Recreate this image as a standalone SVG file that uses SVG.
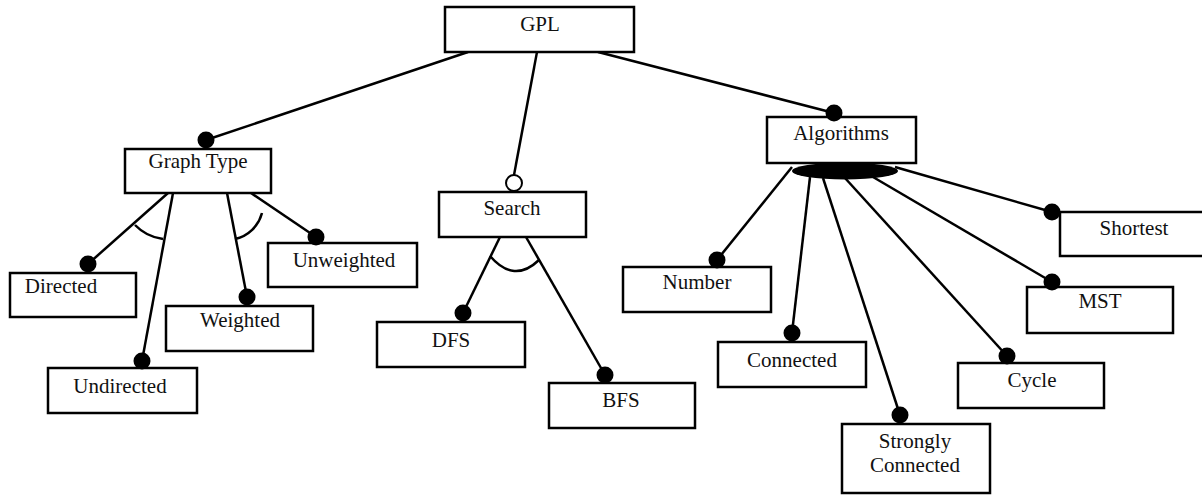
<svg xmlns="http://www.w3.org/2000/svg" width="1202" height="496" viewBox="0 0 1202 496">
<style>
.box{fill:#fff;stroke:#000;stroke-width:2.5}
.t{font-family:"Liberation Serif","Times New Roman",serif;font-size:21px;fill:#111;text-anchor:middle}
.c line,.c path{stroke:#000;stroke-width:2.5;fill:none}
.dot{fill:#000}
.odot{fill:#fff;stroke:#000;stroke-width:2}
</style>
<rect width="1202" height="496" fill="#fff"/>
<g id="connectors" class="c">
<line x1="468" y1="52" x2="206" y2="140"/>
<line x1="537" y1="52" x2="514" y2="175"/>
<line x1="598" y1="52" x2="834" y2="113"/>
<line x1="168" y1="193" x2="88" y2="264"/>
<line x1="173" y1="193" x2="142" y2="361"/>
<line x1="227" y1="193" x2="247" y2="297"/>
<line x1="251" y1="193" x2="316" y2="237"/>
<path d="M135,225 A47 47 0 0 0 163,239"/>
<path d="M235,239 A36 36 0 0 0 262,213"/>
<line x1="500" y1="237" x2="463" y2="313"/>
<line x1="526" y1="237" x2="605" y2="375"/>
<path d="M490,256 Q514,284 539,260"/>
<line x1="792" y1="167" x2="717" y2="260"/>
<line x1="810" y1="177" x2="792" y2="333"/>
<line x1="823" y1="178" x2="900" y2="415"/>
<line x1="845" y1="178" x2="1007" y2="356"/>
<line x1="873" y1="177" x2="1052" y2="282"/>
<line x1="895" y1="167" x2="1052" y2="212"/>
</g>
<g id="GPL"><rect class="box" x="445" y="7" width="189" height="45"/><text class="t" x="540" y="31">GPL</text></g>
<g id="GraphType"><rect class="box" x="125" y="149" width="146" height="44"/><text class="t" x="198" y="168">Graph Type</text><circle class="dot" cx="206" cy="140" r="8.5"/></g>
<g id="Search"><rect class="box" x="439" y="192" width="147" height="45"/><text class="t" x="512" y="215">Search</text><circle class="odot" cx="514" cy="183" r="8"/></g>
<g id="Algorithms"><rect class="box" x="767" y="117" width="149" height="46"/><text class="t" x="841" y="140">Algorithms</text><circle class="dot" cx="834" cy="113" r="8.5"/><ellipse class="dot" cx="845" cy="171" rx="53" ry="8.5"/></g>
<g id="Directed"><rect class="box" x="10" y="273" width="126" height="44"/><text class="t" x="61" y="293">Directed</text><circle class="dot" cx="88" cy="264" r="8.5"/></g>
<g id="Undirected"><rect class="box" x="48" y="368" width="149" height="45"/><text class="t" x="120" y="393">Undirected</text><circle class="dot" cx="142" cy="361" r="8.5"/></g>
<g id="Weighted"><rect class="box" x="166" y="306" width="147" height="45"/><text class="t" x="240" y="327">Weighted</text><circle class="dot" cx="247" cy="297" r="8.5"/></g>
<g id="Unweighted"><rect class="box" x="268" y="243" width="149" height="44"/><text class="t" x="344" y="267">Unweighted</text><circle class="dot" cx="316" cy="237" r="8.5"/></g>
<g id="DFS"><rect class="box" x="377" y="322" width="148" height="45"/><text class="t" x="451" y="347">DFS</text><circle class="dot" cx="463" cy="313" r="8.5"/></g>
<g id="BFS"><rect class="box" x="549" y="383" width="146" height="45"/><text class="t" x="621" y="407">BFS</text><circle class="dot" cx="605" cy="375" r="8.5"/></g>
<g id="Number"><rect class="box" x="623" y="267" width="148" height="45"/><text class="t" x="697" y="289">Number</text><circle class="dot" cx="717" cy="260" r="8.5"/></g>
<g id="Connected"><rect class="box" x="718" y="342" width="148" height="45"/><text class="t" x="792" y="367">Connected</text><circle class="dot" cx="792" cy="333" r="8.5"/></g>
<g id="StronglyConnected"><rect class="box" x="842" y="424" width="148" height="69"/><text class="t" x="915" y="448">Strongly</text><text class="t" x="915" y="472">Connected</text><circle class="dot" cx="900" cy="415" r="8.5"/></g>
<g id="Cycle"><rect class="box" x="958" y="363" width="146" height="45"/><text class="t" x="1032" y="387">Cycle</text><circle class="dot" cx="1007" cy="356" r="8.5"/></g>
<g id="MST"><rect class="box" x="1027" y="287" width="146" height="46"/><text class="t" x="1100" y="308">MST</text><circle class="dot" cx="1052" cy="282" r="8.5"/></g>
<g id="Shortest"><rect class="box" x="1060" y="212" width="144" height="44"/><text class="t" x="1134" y="235">Shortest</text><circle class="dot" cx="1052" cy="212" r="8.5"/></g>
</svg>
